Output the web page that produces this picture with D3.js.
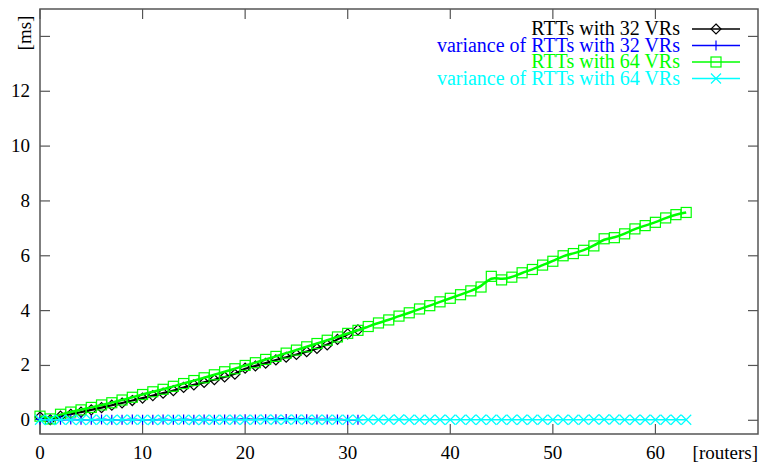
<!DOCTYPE html>
<html>
<head>
<meta charset="utf-8">
<script src="https://cdn.jsdelivr.net/npm/d3@7.9.0/dist/d3.min.js"></script>
<style>
  body { margin: 0; background: #fff; }
  svg text { font-family: "Liberation Serif", "Times New Roman", Times, "DejaVu Serif", serif; }
</style>
</head>
<body>
<div id="chart"></div>
<script>
// RTT measurements, index = number of routers
const rtt32 = [0.12, 0.02, 0.15, 0.22, 0.3, 0.38, 0.46, 0.55, 0.63, 0.72,
  0.81, 0.9, 0.99, 1.08, 1.2, 1.29, 1.38, 1.48, 1.58, 1.68,
  1.9, 1.98, 2.08, 2.2, 2.3, 2.4, 2.5, 2.62, 2.75, 2.95,
  3.15, 3.3];
const var32 = [0.03, 0.02, 0.02, 0.03, 0.02, 0.02, 0.03, 0.02, 0.02, 0.03,
  0.02, 0.02, 0.03, 0.02, 0.03, 0.02, 0.03, 0.02, 0.03, 0.03,
  0.04, 0.03, 0.04, 0.04, 0.05, 0.04, 0.04, 0.03, 0.03, 0.03,
  0.02, 0.02];
const rtt64 = [0.15, 0.05, 0.22, 0.3, 0.38, 0.47, 0.56, 0.64, 0.74, 0.84,
  0.94, 1.04, 1.13, 1.24, 1.34, 1.45, 1.55, 1.66, 1.77, 1.88,
  2.0, 2.1, 2.22, 2.33, 2.45, 2.56, 2.68, 2.8, 2.92, 3.04,
  3.17, 3.28, 3.42, 3.55, 3.66, 3.8, 3.92, 4.06, 4.18, 4.32,
  4.45, 4.58, 4.72, 4.86, 5.25, 5.12, 5.22, 5.38, 5.5, 5.66,
  5.8, 6.0, 6.08, 6.2, 6.36, 6.62, 6.66, 6.8, 6.98, 7.1,
  7.22, 7.38, 7.5, 7.58];
const var64 = [0.02, 0.01, 0.02, 0.02, 0.01, 0.02, 0.02, 0.01, 0.02, 0.02,
  0.02, 0.01, 0.02, 0.02, 0.02, 0.01, 0.02, 0.02, 0.02, 0.02,
  0.02, 0.02, 0.03, 0.02, 0.02, 0.03, 0.02, 0.02, 0.02, 0.02,
  0.02, 0.02, 0.02, 0.02, 0.02, 0.03, 0.02, 0.02, 0.02, 0.02,
  0.02, 0.02, 0.02, 0.02, 0.02, 0.02, 0.02, 0.02, 0.02, 0.02,
  0.02, 0.02, 0.02, 0.02, 0.03, 0.03, 0.03, 0.02, 0.02, 0.02,
  0.02, 0.02, 0.02, 0.02];

const xTicks = [0, 10, 20, 30, 40, 50, 60];
const yTicks = [0, 2, 4, 6, 8, 10, 12, 14];

const series = [
  { name: 'RTTs with 32 VRs', values: rtt32, color: '#000000', symbol: 'diamond', width: 2.2, smooth: true },
  { name: 'variance of RTTs with 32 VRs', values: var32, color: '#0000ff', symbol: 'plus', width: 1.5, smooth: false },
  { name: 'RTTs with 64 VRs', values: rtt64, color: '#00ff00', symbol: 'square', width: 2.5, smooth: true },
  { name: 'variance of RTTs with 64 VRs', values: var64, color: '#00ffff', symbol: 'cross', width: 1.5, smooth: false },
];

const width = 762;
const height = 463;
const plot = { left: 40, right: 758, top: 9, bottom: 434 };

const svg = d3.select('#chart').append('svg')
  .attr('width', width)
  .attr('height', height);

const x = d3.scaleLinear().domain([0, 70]).range([plot.left, plot.right]);
const y = d3.scaleLinear().domain([-0.5, 15]).range([plot.bottom, plot.top]);

// ticks on all four sides, pointing inwards
const axisColor = '#555';
const tickLen = 10;
const ticks = svg.append('g').attr('stroke', axisColor).attr('stroke-width', 1.2);
xTicks.forEach((t) => {
  ticks.append('line').attr('x1', x(t)).attr('x2', x(t)).attr('y1', plot.bottom).attr('y2', plot.bottom - tickLen);
  ticks.append('line').attr('x1', x(t)).attr('x2', x(t)).attr('y1', plot.top).attr('y2', plot.top + tickLen);
});
yTicks.forEach((t) => {
  ticks.append('line').attr('y1', y(t)).attr('y2', y(t)).attr('x1', plot.left).attr('x2', plot.left + tickLen);
  ticks.append('line').attr('y1', y(t)).attr('y2', y(t)).attr('x1', plot.right).attr('x2', plot.right - tickLen);
});

// frame
svg.append('rect')
  .attr('x', plot.left).attr('y', plot.top)
  .attr('width', plot.right - plot.left).attr('height', plot.bottom - plot.top)
  .attr('fill', 'none').attr('stroke', axisColor).attr('stroke-width', 1.5);

// tick labels
svg.append('g').selectAll('text')
  .data(xTicks)
  .join('text')
  .attr('x', (d) => x(d))
  .attr('y', 459)
  .attr('text-anchor', 'middle')
  .attr('font-size', 19)
  .text((d) => d);

svg.append('g').selectAll('text')
  .data(yTicks.filter((d) => d !== 14))
  .join('text')
  .attr('x', 30)
  .attr('y', (d) => y(d) + 6)
  .attr('text-anchor', 'end')
  .attr('font-size', 19)
  .text((d) => d);

svg.append('text')
  .attr('transform', 'translate(31, 33) rotate(-90)')
  .attr('text-anchor', 'middle')
  .attr('font-size', 19)
  .text('[ms]');

svg.append('text')
  .attr('x', 758)
  .attr('y', 459)
  .attr('text-anchor', 'end')
  .attr('font-size', 19)
  .text('[routers]');

function drawSymbol(g, type, cx, cy, color) {
  const s = 5;
  if (type === 'diamond') {
    g.append('path')
      .attr('d', `M${cx},${cy - s}L${cx + s},${cy}L${cx},${cy + s}L${cx - s},${cy}Z`)
      .attr('fill', 'none').attr('stroke', color).attr('stroke-width', 1.2);
  } else if (type === 'square') {
    g.append('rect')
      .attr('x', cx - s).attr('y', cy - s).attr('width', 2 * s).attr('height', 2 * s)
      .attr('fill', 'none').attr('stroke', color).attr('stroke-width', 1.2);
  } else if (type === 'plus') {
    g.append('path')
      .attr('d', `M${cx - s},${cy}H${cx + s}M${cx},${cy - s}V${cy + s}`)
      .attr('stroke', color).attr('stroke-width', 1.2);
  } else {
    g.append('path')
      .attr('d', `M${cx - s},${cy - s}L${cx + s},${cy + s}M${cx - s},${cy + s}L${cx + s},${cy - s}`)
      .attr('stroke', color).attr('stroke-width', 1.2);
  }
}

series.forEach((s) => {
  const line = d3.line()
    .x((d, i) => x(i))
    .y((d) => y(d))
    .curve(s.smooth ? d3.curveBasis : d3.curveLinear);
  const g = svg.append('g');
  g.append('path')
    .attr('d', line(s.values))
    .attr('fill', 'none')
    .attr('stroke', s.color)
    .attr('stroke-width', s.width);
  s.values.forEach((v, i) => drawSymbol(g, s.symbol, x(i), y(v), s.color));
});

// legend
const legend = svg.append('g');
series.forEach((s, i) => {
  const ly = 29 + i * 16.5;
  legend.append('text')
    .attr('x', 680)
    .attr('y', ly + 6)
    .attr('text-anchor', 'end')
    .attr('font-size', 20)
    .attr('fill', s.color)
    .text(s.name);
  legend.append('line')
    .attr('x1', 692).attr('x2', 740)
    .attr('y1', ly).attr('y2', ly)
    .attr('stroke', s.color).attr('stroke-width', 1.5);
  drawSymbol(legend, s.symbol, 716, ly, s.color);
});
</script>
</body>
</html>
